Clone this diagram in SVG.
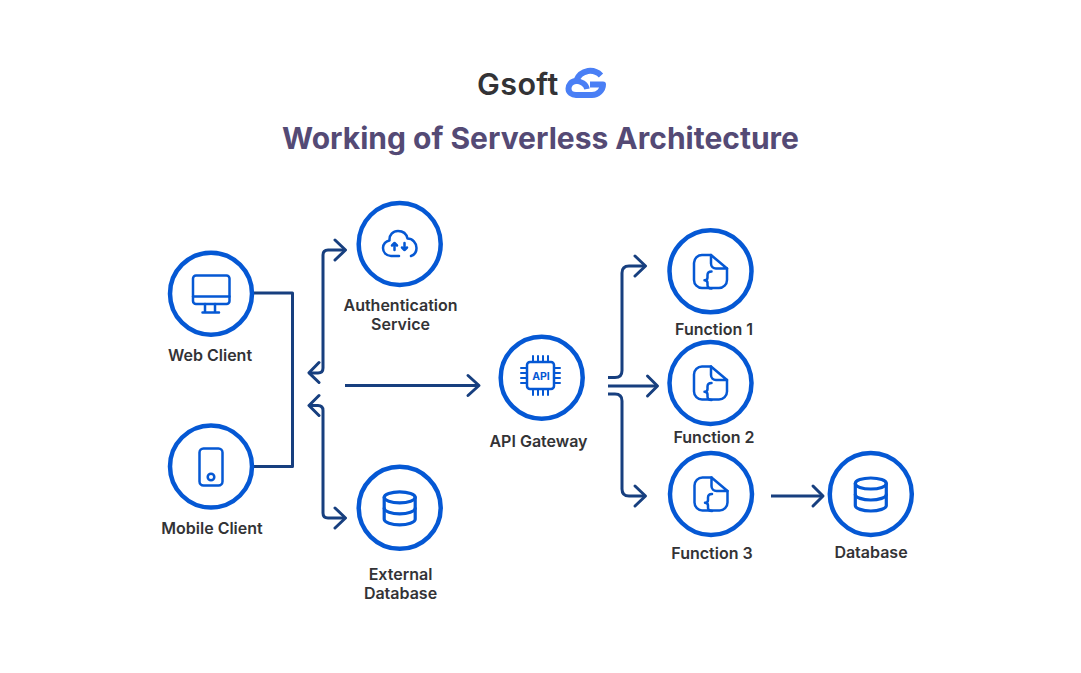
<svg xmlns="http://www.w3.org/2000/svg" width="1081" height="673" viewBox="0 0 1081 673">
<style>
text{font-family:Inter,"Noto Sans","Liberation Sans",sans-serif}
.lbl{font-size:16px;font-weight:600;fill:#333336;text-anchor:middle}
.ring{fill:#fff;stroke:#0558d4;stroke-width:4.500}
.ico{fill:none;stroke:#0558d4;stroke-width:2.500;stroke-linecap:round;stroke-linejoin:round}
.thick{stroke-width:3.200}
.thin{stroke-width:2}
.con{fill:none;stroke:#173f7f;stroke-width:3;stroke-linejoin:round}
.head{stroke-linecap:round}
</style>
<defs>
<g id="file" class="ico">
<path d="M711 255H702a8 8 0 0 0-8 8V280a8 8 0 0 0 8 8H719a8 8 0 0 0 8-8V268.500"/>
<path d="M711 255L727 268.500H716a5 5 0 0 1-5-5Z"/>
<path d="M711.500 271.500c-3 0-4 1-4 3.500v2.500c0 2-1 2.800-3 2.800 2 0 3 .8 3 2.800v1.900c0 2.500 1 3.500 4 3.500"/>
</g>
<g id="db" class="ico thick">
<ellipse cx="0" cy="-10.500" rx="15.500" ry="5.500"/>
<path d="M-15.500-10.500V11.500C-15.500 14.500-8 17-0 17S15.500 14.500 15.500 11.500V-10.500"/>
<path d="M-15.500 0.500C-15.500 3.500-8 6 0 6S15.500 3.500 15.500 0.500"/>
</g>
</defs>
<rect width="1081" height="673" fill="#fff"/>

<g id="logo">
<text x="477" y="95" font-size="30.500" font-weight="600" fill="#333336" letter-spacing="0.400">Gsoft</text>
<path d="M601 75.500C597 71.500 592 70.500 588 71C582 72 578 76 576 81C571 81 568.500 85.500 568.500 88.500C568.500 92.500 572 95 576 95H592C598 95 603 90 603 84.500H590" fill="none" stroke="#4a7ff5" stroke-width="6" stroke-linecap="butt" stroke-linejoin="round"/>
<path d="M576 81C581 81 586 84 587 89" fill="none" stroke="#4a7ff5" stroke-width="5.500"/>
</g>
<text id="title" x="540.500" y="148.500" font-size="30" font-weight="700" fill="#544a75" text-anchor="middle">Working of Serverless Architecture</text>

<g id="connectors">
<path class="con" d="M254 293H292.500V466.500H254"/>
<path class="con" d="M309 373H318q5 0 5-5V255q0-5 5-5H345"/>
<path class="con head" d="M335 240L345.500 250L335 260M319 362.500L309 372.800L319 382.500"/>
<path class="con" d="M309 405.500H318q5 0 5 5V513q0 5 5 5H345"/>
<path class="con head" d="M335 508L345.500 518L335 528M319 395.500L309 405.500L319 415.500"/>
<path class="con" d="M345 385.500H478"/>
<path class="con head" d="M468 375.500L479 385.500L468 395.500"/>
<path class="con" d="M608 377.500H615q7 0 7-7V273q0-7 7-7H644"/>
<path class="con head" d="M635 256L645.500 266L635 276"/>
<path class="con" d="M608 386H657"/>
<path class="con head" d="M647.500 376L657.500 386L647.500 396"/>
<path class="con" d="M608 394H615q7 0 7 7V489q0 7 7 7H644"/>
<path class="con head" d="M635 486L645.500 496L635 506"/>
<path class="con" d="M771 496H822"/>
<path class="con head" d="M813 486L823 496L813 506"/>
</g>

<g id="web-client">
<circle class="ring" cx="211" cy="293.700" r="41"/>
<rect class="ico" x="193" y="275.500" width="36.500" height="28.500" rx="3"/>
<path class="ico" d="M193 296.500H229.500M205 304V312M215 304V312M202.500 312.500H219"/>
<text class="lbl" x="210" y="360.500">Web Client</text>
</g>
<g id="auth-service">
<circle class="ring" cx="399.700" cy="244" r="41"/>
<path class="ico" d="M399 256H391C386 256 383 252 383 248C383 244 386 241 389.500 240.500C389 235 393 231 398 231C403 231 406.500 234 407.500 238.500C412.500 238.500 416.500 243 416.500 248C416.500 252 414 255 411 256"/>
<path class="ico" d="M394.500 250V243M392 245.500L394.500 243L397 245.500M404.500 243V250M402 247.500L404.500 250L407 247.500"/>
<text class="lbl" x="400.500" y="311">Authentication</text>
<text class="lbl" x="400.500" y="330">Service</text>
</g>
<g id="mobile-client">
<circle class="ring" cx="211" cy="466.500" r="41"/>
<rect class="ico" x="199.500" y="448.500" width="23" height="37" rx="4"/>
<circle class="ico" cx="211" cy="477" r="3.300"/>
<text class="lbl" x="212" y="533.500">Mobile Client</text>
</g>
<g id="external-database">
<circle class="ring" cx="399.700" cy="507.800" r="41"/>
<use href="#db" x="399.700" y="507.800"/>
<text class="lbl" x="400.500" y="580">External</text>
<text class="lbl" x="400.500" y="599">Database</text>
</g>
<g id="api-gateway">
<circle class="ring" cx="541.700" cy="377.700" r="41"/>
<rect class="ico" x="527" y="362" width="27" height="27" rx="3"/>
<path class="ico thin" d="M533 362V356M538 362V356M543 362V356M548 362V356M533 389V395M538 389V395M543 389V395M548 389V395M527 368H521M527 373H521M527 378H521M527 383H521M554 368H560M554 373H560M554 378H560M554 383H560"/>
<text x="541" y="380" font-size="10.500" font-weight="700" fill="#0558d4" text-anchor="middle">API</text>
<text class="lbl" x="538.500" y="446.500">API Gateway</text>
</g>
<g id="function-1">
<circle class="ring" cx="710.500" cy="271.300" r="41"/>
<use href="#file"/>
<text class="lbl" x="714" y="335">Function 1</text>
</g>
<g id="function-2">
<circle class="ring" cx="710.500" cy="383" r="41"/>
<use href="#file" y="111.500"/>
<text class="lbl" x="714" y="442.500">Function 2</text>
</g>
<g id="function-3">
<circle class="ring" cx="711" cy="494" r="41"/>
<use href="#file" x="0.500" y="222.500"/>
<text class="lbl" x="712" y="558.500">Function 3</text>
</g>
<g id="database">
<circle class="ring" cx="870.800" cy="494" r="41"/>
<use href="#db" x="870.800" y="494"/>
<text class="lbl" x="871" y="557.500">Database</text>
</g>
</svg>
